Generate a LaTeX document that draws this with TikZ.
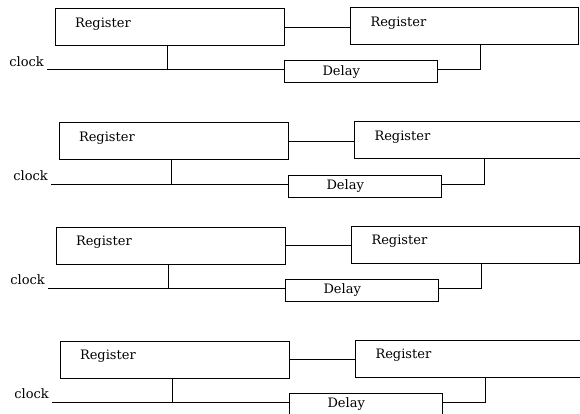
\documentclass[tikz,border=0pt]{standalone}
\usepackage{fontspec}
\setmainfont{DejaVu Serif}
\usepackage{tikz}

\tikzset{
  every node/.style={font=\fontsize{13}{16}\selectfont},
  reg/.style={draw, line width=1pt, minimum height=37pt, inner xsep=20pt, text depth=10pt, align=left},
  dly/.style={draw, line width=1pt, anchor=west, minimum width=153pt, minimum height=22pt, text width=77pt, inner xsep=38pt, align=left},
  wire/.style={line width=1pt}
}

\begin{document}
\begin{tikzpicture}[x=1pt,y=-1pt]
\clip (0,0) rectangle (580,414);

\foreach \r/\dx/\dy in {1/0/0, 2/4/114, 3/1/218, 4/5/332}{
	\node[reg, text width=189pt] (regA\r) at ({169.5+\dx},{27.5+\dy}) {Register};
	\node[reg, anchor=west, text width=188pt] (regB\r) at ({350+\dx},{26.5+\dy}) {Register};
	\node[dly] (delay\r) at ({284+\dx},{72+\dy}) {Delay};
	\coordinate (clkin\r) at ({47+\dx},{70+\dy});
	\node[anchor=south east, inner sep=3pt] (clock\r) at (clkin\r) {clock};

	\draw[wire] (regA\r.east) -- (regA\r.east -| regB\r.west);
	\draw[wire] (clkin\r) -- (clkin\r -| delay\r.west);
	\draw[wire] ([xshift=-2pt]regA\r.south) -- ([xshift=-2pt]regA\r.south |- clkin\r);
	\draw[wire] (clkin\r -| delay\r.east) -| ([xshift=16pt]regB\r.south);
	}
\end{tikzpicture}
\end{document}
